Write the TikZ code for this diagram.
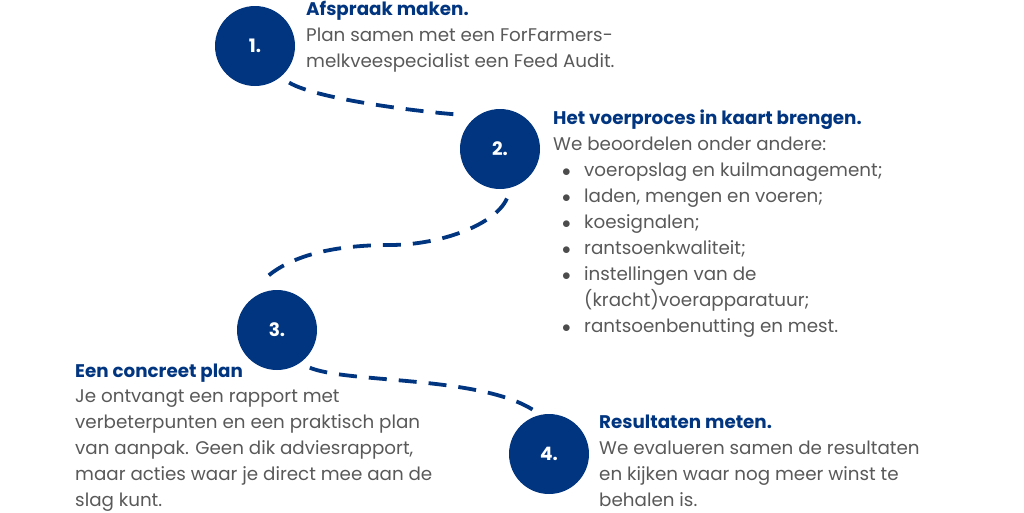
\documentclass[tikz,border=0pt]{standalone}
\usepackage{fontspec}
\setmainfont{Poppins}
\definecolor{navy}{HTML}{02357F}
\definecolor{txt}{HTML}{595959}
\newcommand{\blt}{\hspace*{9pt}\makebox[22pt][l]{\color{txt!85!black}$\bullet$}}
\tikzset{
  circ/.style={circle, fill=navy, minimum size=80pt, inner sep=0pt, outer sep=10pt,
    text=white, font=\fontsize{18.5}{18.5}\selectfont\bfseries},
  conn/.style={draw=navy, line width=3.8pt, dash pattern=on 18pt off 12pt},
  ttl/.style={anchor=base west, inner sep=0pt, text=navy, font=\fontsize{18.3}{26}\selectfont\bfseries},
  bdy/.style={anchor=base west, inner sep=0pt, text=txt, align=left, font=\fontsize{18.3}{26}\selectfont},
}
\begin{document}
\begin{tikzpicture}[x=1pt,y=-1pt]
\useasboundingbox (0,0) rectangle (1024,512);
% circles
\node[circ] (c1) at (255,46) {1.};
\node[circ] (c2) at (500,149) {2.};
\node[circ] (c3) at (277,330) {3.};
\node[circ, outer sep=1pt] (c4) at (549,454) {4.};
% connectors
\draw[conn] (c1.-47) .. controls (318,100) and (430,113) .. (c2.137);
\coordinate (m23) at (390,245);
\draw[conn] (c2.-82) .. controls (495,225) and (440,245) .. (m23)
  .. controls (330,245) and (285,257) .. (c3.109);
\draw[conn] (c3.-49) .. controls (350,384) and (490,375) .. (c4.104);
% texts (base anchor = baseline of the last line)
\node[ttl] (t1) at (306,15) {Afspraak maken.};
\node[bdy] (b1) at (306,67.5) {Plan samen met een ForFarmers-\\melkveespecialist een Feed Audit.};
\node[ttl] (t2) at (553,124) {Het voerproces in kaart brengen.};
\node[bdy] (b2) at (553,332) {We beoordelen onder andere:\\
\blt voeropslag en kuilmanagement;\\
\blt laden, mengen en voeren;\\
\blt koesignalen;\\
\blt rantsoenkwaliteit;\\
\blt instellingen van de\\
\hspace*{31pt}(kracht)voerapparatuur;\\
\blt rantsoenbenutting en mest.};
\node[ttl] (t3) at (75,377) {Een concreet plan};
\node[bdy] (b3) at (75,506) {Je ontvangt een rapport met\\verbeterpunten en een praktisch plan\\van aanpak. Geen dik adviesrapport,\\maar acties waar je direct mee aan de\\slag kunt.};
\node[ttl] (t4) at (599,428) {Resultaten meten.};
\node[bdy] (b4) at (599,506) {We evalueren samen de resultaten\\en kijken waar nog meer winst te\\behalen is.};
\end{tikzpicture}
\end{document}
